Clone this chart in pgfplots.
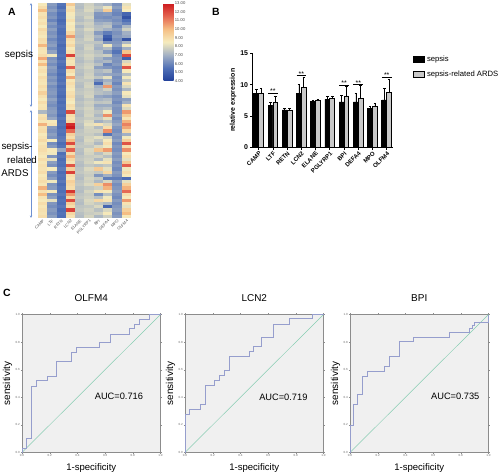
\documentclass[border=0pt]{standalone}
\usepackage{pgfplots}
\pgfplotsset{compat=1.18}
\usepackage{pgfplotstable}
\usepackage{fontspec}
\setmainfont{Liberation Sans}
\usetikzlibrary{arrows.meta}
\pgfplotsset{/pgf/number format/assume math mode=true}
\definecolor{roc}{RGB}{150,158,205}
\definecolor{diag}{RGB}{135,205,178}
\definecolor{bggray}{RGB}{240,240,240}
\definecolor{brk}{RGB}{110,145,210}
\definecolor{ardsgray}{RGB}{200,200,200}
\pgfdeclareplotmark{hcell}{\pgfpathrectangle{\pgfpoint{-4.68bp}{-1.62bp}}{\pgfpoint{9.36bp}{3.24bp}}\pgfusepathqfill}

\pgfplotstableread{
c0 c1 c2 c3 c4 c5 c6 c7 c8 c9
8.6 6.5 5.6 9.6 7.4 7.8 7.3 7.0 6.3 8.2
9.0 6.3 5.4 8.8 7.3 7.9 7.6 8.3 6.6 8.8
10.0 6.6 5.8 9.0 7.5 8.0 7.2 9.6 6.2 8.5
8.8 6.2 5.5 8.6 7.6 7.7 6.4 6.5 6.0 5.2
9.0 6.4 5.6 8.4 7.4 7.9 6.3 6.2 6.4 4.6
8.7 6.0 5.3 8.9 7.3 7.6 6.6 6.5 6.2 5.5
8.9 6.5 5.5 8.5 7.6 7.8 7.0 7.2 6.5 6.0
8.5 6.2 5.7 8.7 7.2 7.7 7.3 7.5 6.1 7.2
9.1 6.6 5.5 8.6 7.5 8.0 7.4 7.0 6.6 7.8
8.8 6.3 5.4 9.2 7.4 7.7 6.5 5.8 6.3 7.0
8.6 6.5 5.6 10.6 7.3 7.8 7.1 5.0 6.5 6.8
9.0 6.1 5.5 9.0 7.5 7.9 6.8 4.6 6.2 4.6
8.9 6.4 5.6 8.8 7.6 7.6 7.5 6.4 6.4 7.2
10.1 6.6 5.3 9.2 7.4 7.8 7.2 8.4 6.6 8.4
8.8 6.2 5.5 8.6 7.3 7.9 7.0 7.3 6.0 7.0
8.7 6.7 5.4 8.9 7.5 7.7 7.4 6.5 5.6 9.8
9.0 8.4 5.6 12.2 7.6 7.9 7.6 7.8 6.2 12.0
10.3 6.3 5.4 9.0 7.4 7.8 7.2 6.6 6.4 5.0
8.9 6.5 5.7 8.7 7.3 7.6 7.0 7.2 6.3 8.0
10.0 6.2 5.5 8.8 7.5 7.8 7.4 6.0 6.5 9.0
8.7 6.6 5.3 11.6 7.6 7.9 6.6 6.4 6.1 11.8
8.9 6.4 5.6 9.0 7.4 7.7 7.2 7.5 6.3 8.6
8.6 6.1 5.4 8.6 7.3 7.8 7.0 6.8 6.6 7.4
9.0 6.5 5.6 10.4 7.5 7.9 7.5 8.2 6.2 8.4
8.8 6.3 5.5 8.7 7.6 7.6 6.4 7.0 6.4 7.6
8.7 6.6 5.7 9.0 7.4 7.8 5.4 7.4 6.0 8.8
9.0 6.2 5.4 8.8 7.3 7.9 7.0 10.6 6.5 8.0
8.8 6.4 5.6 8.6 7.5 7.7 7.3 7.8 6.3 7.2
9.4 6.5 5.5 8.9 7.6 7.8 7.4 7.2 6.6 8.6
8.9 6.3 5.3 9.1 7.4 7.9 6.8 6.6 6.2 8.2
8.6 6.7 5.6 8.7 7.3 7.6 7.1 7.3 6.4 6.6
9.0 6.4 5.4 8.5 7.5 7.8 7.5 7.6 6.1 7.0
8.7 6.2 5.6 9.0 7.4 7.7 6.9 6.9 6.5 8.8
8.8 6.5 5.5 8.8 7.6 7.9 7.2 7.4 6.3 8.0
7.2 6.6 5.6 12.0 7.4 7.8 7.5 8.4 6.3 10.6
8.8 6.4 5.4 9.0 7.3 7.9 7.2 10.8 6.6 9.6
9.0 6.8 5.7 8.8 7.5 7.7 7.6 8.2 6.2 8.8
8.7 8.6 5.5 9.2 7.6 8.0 7.0 7.4 6.5 10.2
10.2 8.8 5.6 12.6 7.4 8.2 8.8 8.0 6.8 11.0
8.9 6.5 5.4 13.0 7.3 7.9 7.3 9.0 6.4 10.4
9.0 6.3 5.6 11.4 7.5 7.8 7.8 10.8 6.2 9.2
8.6 6.6 5.5 9.4 7.6 7.7 7.4 5.6 6.5 7.0
8.8 6.4 5.7 9.0 7.4 7.9 8.2 7.8 6.3 8.4
9.1 8.5 5.8 10.0 7.3 8.0 7.6 8.6 6.6 9.4
8.7 6.2 5.4 12.0 7.5 7.8 7.2 9.0 6.1 11.8
8.9 6.5 5.6 9.4 7.6 7.6 8.0 8.4 6.4 9.0
9.0 8.6 6.8 11.6 7.4 8.0 9.8 10.6 6.2 10.8
8.8 8.4 5.5 9.0 7.3 7.9 7.4 8.0 6.5 8.6
8.6 6.4 5.7 10.2 7.5 7.7 7.8 7.4 6.3 9.0
9.0 8.2 5.4 9.2 7.6 7.8 7.2 8.2 6.6 8.2
8.7 6.6 5.6 8.8 7.4 7.9 8.4 8.8 6.2 9.6
8.9 6.3 5.5 11.8 7.3 7.6 7.4 7.6 6.4 11.6
8.8 8.5 5.8 9.4 7.5 8.0 9.6 8.2 6.1 8.4
9.0 6.5 5.4 12.2 7.6 7.8 7.6 9.2 6.5 9.0
8.6 6.2 5.6 9.0 7.4 7.7 6.4 7.0 6.3 8.6
8.8 6.6 5.5 8.8 7.3 7.9 7.6 5.8 5.8 5.4
9.0 8.4 5.7 9.4 7.5 7.8 7.2 8.0 6.6 8.2
8.7 6.4 5.4 9.2 7.6 8.0 9.4 10.8 6.2 9.4
10.2 6.5 5.6 9.0 7.4 7.6 7.8 10.2 6.4 10.2
8.9 8.6 5.5 12.4 7.3 7.9 8.8 8.6 6.6 11.4
10.0 6.3 5.7 10.6 7.5 7.7 6.2 7.4 6.3 9.0
8.8 6.6 5.4 9.2 7.6 7.8 7.4 8.4 6.1 8.6
8.6 8.2 5.6 12.0 7.4 8.0 9.2 8.8 6.5 10.6
9.0 6.4 5.5 9.4 7.3 7.9 7.6 7.2 6.2 8.8
8.7 6.2 5.7 9.0 7.5 7.6 8.0 5.2 6.4 8.2
8.9 6.5 5.4 12.2 7.6 7.8 7.4 8.0 6.6 9.4
8.8 6.3 5.6 9.2 7.4 7.7 7.8 8.6 6.3 10.0
9.0 6.6 5.5 8.8 7.3 7.9 7.2 7.8 6.5 8.6
}\heat

\pgfplotstableread{
x m e
0 8.6 0.7
1 6.75 0.45
2 5.96 0.25
3 8.6 1.45
4 7.3 0.25
5 7.65 0.45
6 7.23 1.1
7 7.23 1.45
8 6.2 0.4
9 7.55 1.85
}\sep
\pgfplotstableread{
x m e
0 8.6 0.8
1 7.2 1.0
2 5.9 0.3
3 9.5 1.7
4 7.45 0.25
5 7.8 0.4
6 8.2 1.6
7 7.8 2.1
8 6.5 0.6
9 8.8 2.05
}\ards

\pgfplotsset{rocax/.style={scale only axis, width=138.5bp, height=138bp,
  xmin=0, xmax=1, ymin=0, ymax=1,
  axis background/.style={fill=bggray}, axis line style={black!45, line width=0.4pt},
  xtick={0,0.2,0.4,0.6,0.8,1}, ytick={0,0.2,0.4,0.6,0.8,1},
  tick align=outside, major tick length=1.2bp, tick style={black!45, line width=0.3pt},
  ticklabel style={font=\fontsize{3}{3}\selectfont, text=black!60, inner sep=0.8bp},
  xticklabel={\pgfmathprintnumber[fixed,fixed zerofill,precision=1]{\tick}},
  yticklabel={\pgfmathprintnumber[fixed,fixed zerofill,precision=1]{\tick}},
  title style={font=\fontsize{10}{10}\selectfont, at={(0.5,1)}, anchor=south, yshift=3.5bp},
  xlabel={1-specificity}, ylabel={sensitivity},
  xlabel style={font=\fontsize{9.6}{10}\selectfont, at={(axis description cs:0.5,0)}, anchor=north, yshift=-8bp},
  ylabel style={font=\fontsize{10}{10}\selectfont, at={(axis description cs:-0.105,0.5)}, anchor=center},
  clip=false}}

\begin{document}
\begin{tikzpicture}
\useasboundingbox (0,0) rectangle (500bp,-476bp);

% Panel A
\node[font=\bfseries\fontsize{10.5}{10.5}\selectfont] at (12bp,-12bp) {A};
\draw[brk, line width=0.5pt, {Stealth[length=2.5bp,width=2.2bp]}-{Stealth[length=2.5bp,width=2.2bp]}] (31bp,-3bp) -- (31bp,-107bp);
\draw[brk, line width=0.5pt, {Stealth[length=2.5bp,width=2.2bp]}-{Stealth[length=2.5bp,width=2.2bp]}] (31bp,-110bp) -- (31bp,-218bp);
\node[font=\fontsize{10}{10}\selectfont] at (19bp,-55bp) {sepsis};
\node[font=\fontsize{9.8}{10}\selectfont] at (17bp,-147bp) {sepsis-};
\node[font=\fontsize{9.8}{10}\selectfont] at (22bp,-160bp) {related};
\node[font=\fontsize{9.8}{10}\selectfont] at (15bp,-173bp) {ARDS};

\begin{axis}[at={(38bp,-3bp)}, anchor=north west, scale only axis, width=93bp, height=215bp,
  xmin=-0.5, xmax=9.5, ymin=-0.5, ymax=67.5, y dir=reverse,
  axis line style={draw=none}, major tick length=0pt, ytick=\empty,
  xtick={0,...,9}, xticklabels={CAMP,LTF,RETN,LCN2,ELANE,PGLYRP1,BPI,DEFA4,MPO,OLFM4},
  xticklabel style={rotate=45, anchor=north east, font=\fontsize{4}{4}\selectfont, text=black!70, inner sep=0.8pt},
  colormap={heat}{rgb255(0)=(33,64,154) rgb255(1.5)=(80,112,182) rgb255(3)=(162,176,196) rgb255(4.5)=(246,236,190) rgb255(6)=(245,190,132) rgb255(7.5)=(228,100,80) rgb255(9)=(205,25,30)},
  point meta min=4, point meta max=13,
  colorbar,
  colorbar style={at={(parent axis.north east)}, anchor=north west, xshift=24bp,
    scale only axis, width=10bp, height=78bp, ytick={4,...,13},
    yticklabel={\pgfmathprintnumber[fixed,fixed zerofill,precision=2]{\tick}},
    yticklabel style={font=\fontsize{4.2}{4.2}\selectfont, text=black!70, inner sep=1.2pt},
    major tick length=0pt, axis line style={draw=none}},
  clip=false]
\pgfplotsinvokeforeach{0,...,9}{
  \addplot[scatter, only marks, mark=hcell, point meta=explicit,
    scatter/use mapped color={draw=none, fill=mapped color}]
    table[x expr=#1, y expr=\coordindex, meta=c#1]{\heat};
}
\end{axis}

% Panel B
\node[font=\bfseries\fontsize{10.5}{10.5}\selectfont] at (216bp,-12bp) {B};
\begin{axis}[at={(252.3bp,-147.3bp)}, anchor=south west, scale only axis, width=140.4bp, height=94bp,
  xmin=-0.45, xmax=9.42, ymin=0, ymax=15,
  axis lines=left, axis line style={-, line width=1pt},
  ybar=0pt, bar width=0.34,
  xtick={0,...,9}, xticklabels={CAMP,LTF,RETN,LCN2,ELANE,PGLYRP1,BPI,DEFA4,MPO,OLFM4},
  xticklabel style={rotate=45, anchor=north east, font=\bfseries\fontsize{6}{6}\selectfont, inner sep=0.8pt},
  ytick={0,5,10,15}, yticklabel style={font=\bfseries\fontsize{7}{7}\selectfont, inner sep=1.5pt},
  tick align=outside, major tick length=2.5bp, tick style={line width=0.8pt, black},
  ylabel={relative expression},
  ylabel style={font=\bfseries\fontsize{7}{7}\selectfont, at={(axis description cs:-0.137,0.5)}, anchor=center},
  legend style={at={(1.145,0.99)}, anchor=north west, draw=none, fill=none,
    font=\fontsize{7.7}{8}\selectfont, row sep=3.5bp, inner sep=0pt},
  legend cell align=left,
  clip=false]
\addplot[fill=black, draw=black, line width=0.8pt,
  legend image code/.code={\draw[fill=black, draw=black, line width=0.6pt] (0bp,-2.8bp) rectangle (11bp,3.2bp);},
  error bars/.cd, y dir=plus, y explicit,
  error bar style={line width=0.6pt, black}, error mark options={rotate=90, mark size=1.3pt, line width=0.6pt, black}]
  table[x=x, y=m, y error=e]{\sep};
\addplot[fill=ardsgray, draw=black, line width=0.8pt,
  legend image code/.code={\draw[fill=ardsgray, draw=black, line width=0.8pt] (0bp,-2.8bp) rectangle (11bp,3.2bp);},
  error bars/.cd, y dir=plus, y explicit,
  error bar style={line width=0.6pt, black}, error mark options={rotate=90, mark size=1.3pt, line width=0.6pt, black}]
  table[x=x, y=m, y error=e]{\ards};
\legend{sepsis, sepsis-related ARDS}
\draw[line width=0.5pt] (axis cs:0.66,8.7) -- (axis cs:1.34,8.7);
\draw[line width=0.5pt] (axis cs:2.66,11.5) -- (axis cs:3.34,11.5);
\draw[line width=0.5pt] (axis cs:5.66,9.95) -- (axis cs:6.34,9.95);
\draw[line width=0.5pt] (axis cs:6.66,10.05) -- (axis cs:7.34,10.05);
\draw[line width=0.5pt] (axis cs:8.66,11.2) -- (axis cs:9.34,11.2);
\node[font=\fontsize{7}{7}\selectfont, anchor=south, inner sep=0pt, yshift=-1bp] at (axis cs:1,8.7) {**};
\node[font=\fontsize{7}{7}\selectfont, anchor=south, inner sep=0pt, yshift=-1bp] at (axis cs:3,11.5) {**};
\node[font=\fontsize{7}{7}\selectfont, anchor=south, inner sep=0pt, yshift=-1bp] at (axis cs:6,9.95) {**};
\node[font=\fontsize{7}{7}\selectfont, anchor=south, inner sep=0pt, yshift=-1bp] at (axis cs:7,10.05) {**};
\node[font=\fontsize{7}{7}\selectfont, anchor=south, inner sep=0pt, yshift=-1bp] at (axis cs:9,11.2) {**};
\end{axis}

% Panel C
\node[font=\bfseries\fontsize{10.5}{10.5}\selectfont] at (7bp,-293bp) {C};
\begin{axis}[rocax, at={(22bp,-452.5bp)}, anchor=south west, title={OLFM4}]
\addplot[diag, line width=0.5pt] coordinates {(0,0) (1,1)};
\addplot[roc, line width=0.55pt] coordinates {(0,0) (0,0.03) (0.03,0.03) (0.03,0.10) (0.067,0.10) (0.067,0.48) (0.10,0.48) (0.10,0.52) (0.18,0.52) (0.18,0.555) (0.246,0.555) (0.246,0.66) (0.354,0.66) (0.354,0.725) (0.39,0.725) (0.39,0.763) (0.56,0.763) (0.56,0.80) (0.64,0.80) (0.64,0.86) (0.775,0.86) (0.775,0.90) (0.81,0.90) (0.81,0.93) (0.85,0.93) (0.85,0.966) (0.92,0.966) (0.92,1) (1,1)};
\node[font=\fontsize{9.3}{10}\selectfont] at (axis cs:0.70,0.405) {AUC=0.716};
\end{axis}

\begin{axis}[rocax, at={(185bp,-452.5bp)}, anchor=south west, title={LCN2}]
\addplot[diag, line width=0.5pt] coordinates {(0,0) (1,1)};
\addplot[roc, line width=0.55pt] coordinates {(0,0) (0,0.275) (0.03,0.275) (0.03,0.315) (0.11,0.315) (0.11,0.35) (0.145,0.35) (0.145,0.49) (0.21,0.49) (0.21,0.525) (0.25,0.525) (0.25,0.557) (0.28,0.557) (0.28,0.593) (0.32,0.593) (0.32,0.70) (0.467,0.70) (0.467,0.734) (0.496,0.734) (0.496,0.768) (0.554,0.768) (0.554,0.832) (0.64,0.832) (0.64,0.93) (0.75,0.93) (0.75,0.971) (0.92,0.971) (0.92,1) (1,1)};
\node[font=\fontsize{9.3}{10}\selectfont] at (axis cs:0.71,0.40) {AUC=0.719};
\end{axis}

\begin{axis}[rocax, at={(350bp,-452.5bp)}, anchor=south west, title={BPI}]
\addplot[diag, line width=0.5pt] coordinates {(0,0) (1,1)};
\addplot[roc, line width=0.55pt] coordinates {(0,0) (0,0.2) (0.024,0.2) (0.024,0.346) (0.056,0.346) (0.056,0.42) (0.085,0.42) (0.085,0.554) (0.128,0.554) (0.128,0.59) (0.25,0.59) (0.25,0.627) (0.28,0.627) (0.28,0.70) (0.356,0.70) (0.356,0.805) (0.46,0.805) (0.46,0.834) (0.714,0.834) (0.714,0.87) (0.86,0.87) (0.86,0.90) (0.88,0.90) (0.88,0.92) (0.9,0.92) (0.9,0.944) (1,0.944) (1,1)};
\node[font=\fontsize{9.3}{10}\selectfont] at (axis cs:0.76,0.41) {AUC=0.735};
\end{axis}
\end{tikzpicture}
\end{document}
